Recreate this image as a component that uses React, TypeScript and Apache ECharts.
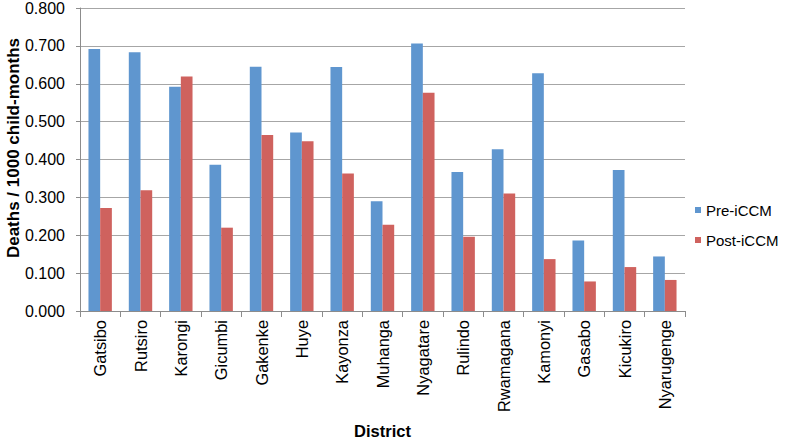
import React, { useEffect, useRef } from "react";
import * as echarts from "echarts";

const districts = ["Gatsibo", "Rutsiro", "Karongi", "Gicumbi", "Gakenke", "Huye", "Kayonza", "Muhanga", "Nyagatare", "Rulindo", "Rwamagana", "Kamonyi", "Gasabo", "Kicukiro", "Nyarugenge"];
const preICCM = [0.692, 0.683, 0.592, 0.386, 0.645, 0.471, 0.644, 0.290, 0.706, 0.367, 0.427, 0.628, 0.186, 0.372, 0.144];
const postICCM = [0.272, 0.319, 0.619, 0.220, 0.465, 0.448, 0.363, 0.228, 0.576, 0.196, 0.310, 0.137, 0.078, 0.116, 0.082];
const yAxisTitle = "Deaths / 1000 child-months";
const xAxisTitle = "District";

const FONT = "'Liberation Sans', Arial, sans-serif";

export default function App() {
  const ref = useRef<HTMLDivElement>(null);
  useEffect(() => {
    if (!ref.current) return;
    const chart = echarts.init(ref.current, undefined, { renderer: "svg" });
    chart.setOption({
      animation: false,
      backgroundColor: "#ffffff",
      textStyle: { fontFamily: FONT },
      grid: { left: 80, right: 103, top: 8, bottom: 128, containLabel: false, outerBoundsMode: "none" },
      legend: {
        orient: "vertical",
        left: 695,
        top: 202,
        padding: 0,
        itemWidth: 6,
        itemHeight: 6,
        itemGap: 14,
        icon: "rect",
        textStyle: { fontFamily: FONT, fontSize: 15, lineHeight: 16, color: "#000" },
        data: ["Pre-iCCM", "Post-iCCM"],
      },
      graphic: [
        {
          type: "text",
          x: 13,
          y: 148,
          rotation: Math.PI / 2,
          style: {
            text: yAxisTitle,
            fontFamily: FONT,
            fontSize: 17,
            fontWeight: "bold",
            fill: "#000",
            align: "center",
            verticalAlign: "middle",
          },
        },
      ],
      xAxis: {
        type: "category",
        data: districts,
        name: xAxisTitle,
        nameLocation: "middle",
        nameGap: 111,
        nameTextStyle: { fontFamily: FONT, fontSize: 16.5, fontWeight: "bold", color: "#000" },
        axisLine: { lineStyle: { color: "#8c8c8c", width: 1 } },
        axisTick: { show: true, length: 6, lineStyle: { color: "#8c8c8c" } },
        axisLabel: { rotate: 90, fontFamily: FONT, fontSize: 16.4, color: "#000", margin: 9, interval: 0 },
      },
      yAxis: {
        type: "value",
        min: 0,
        max: 0.8,
        interval: 0.1,
        axisLine: { show: true, lineStyle: { color: "#8c8c8c", width: 1 } },
        axisTick: { show: true, length: 4, lineStyle: { color: "#8c8c8c" } },
        splitLine: { lineStyle: { color: "#a6a6a6", width: 1 } },
        axisLabel: { fontFamily: FONT, fontSize: 16, color: "#000", margin: 15, formatter: (v: number) => v.toFixed(3) },
      },
      series: [
        {
          name: "Pre-iCCM",
          type: "bar",
          data: preICCM,
          barGap: "0%",
          barCategoryGap: "42%",
          itemStyle: { color: "#5f96cf" },
        },
        {
          name: "Post-iCCM",
          type: "bar",
          data: postICCM,
          barGap: "0%",
          barCategoryGap: "42%",
          itemStyle: { color: "#cf625e" },
        },
      ],
    });
    return () => chart.dispose();
  }, []);
  return <div ref={ref} style={{ width: 788, height: 439, position: "absolute", left: 0, top: 0 }} />;
}
